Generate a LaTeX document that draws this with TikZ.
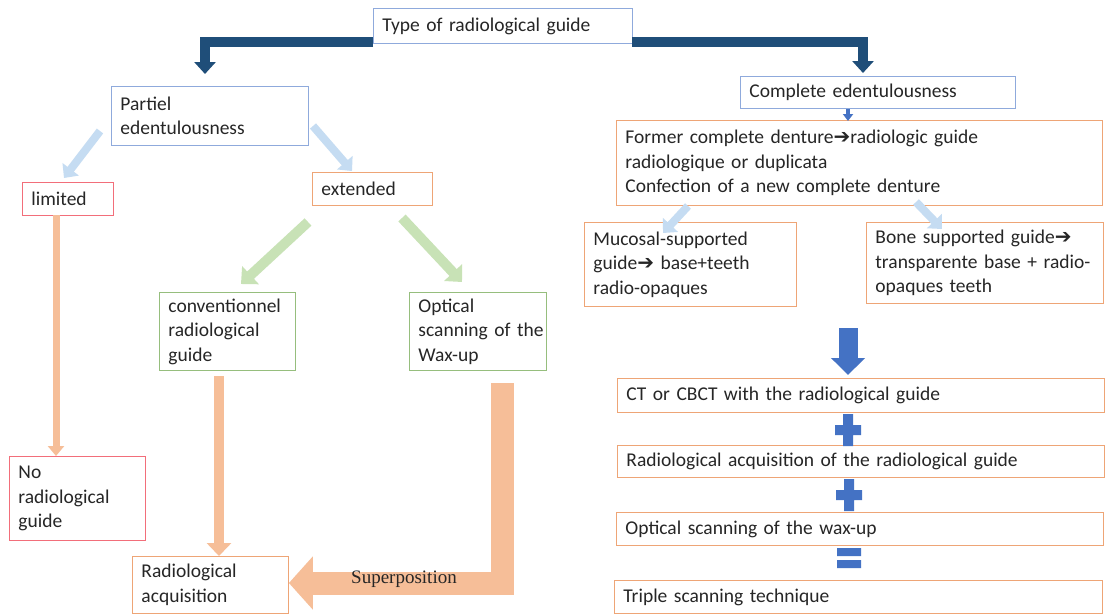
\documentclass[tikz,border=0pt]{standalone}
\usepackage{fontspec}
\setmainfont{Carlito}
\newfontfamily\dejavu{DejaVu Sans}
\newfontfamily\supfont{Liberation Serif}
\usetikzlibrary{arrows.meta}
\definecolor{cblue}{RGB}{143,170,220}
\definecolor{cpink}{RGB}{242,110,122}
\definecolor{corange}{RGB}{238,165,118}
\definecolor{cgreen}{RGB}{150,190,125}
\definecolor{clb}{RGB}{197,220,242}
\definecolor{clg}{RGB}{200,226,182}
\definecolor{cpeach}{RGB}{246,190,152}
\definecolor{cdark}{RGB}{31,78,121}
\definecolor{cmid}{RGB}{68,114,196}
\definecolor{ctxt}{RGB}{38,38,38}
\newcommand\heavyarr{{\dejavu\bfseries\fontsize{20}{22}\selectfont ➔}}
\begin{document}
\begin{tikzpicture}[x=1pt,y=-1pt,
  font=\fontsize{19.5}{24.5}\selectfont,
  bx/.style={draw, line width=0.9pt, anchor=north west, inner xsep=9pt, inner ysep=0pt, align=left, fill=white, text=ctxt},
  bluebox/.style={bx, draw=cblue},
  pinkbox/.style={bx, draw=cpink},
  orbox/.style={bx, draw=corange},
  grbox/.style={bx, draw=cgreen},
  darkarrow/.style={draw=cdark, line width=10pt, line join=miter, -{Triangle[width=21pt,length=12pt]}},
  lbarrow/.style={draw=clb, line width=8pt, -{Triangle[width=20pt,length=11pt]}},
  lgarrow/.style={draw=clg, line width=10pt, -{Triangle[width=24pt,length=13pt]}},
  pcharrow/.style={draw=cpeach, line width=#1},
  midarrow/.style={draw=cmid, line width=#1}
]
\useasboundingbox (0,0) rectangle (1105,614);
\fill[white] (0,0) rectangle (1105,614);

% boxes
\node[bluebox, minimum width=259pt, minimum height=35pt, text width=241pt] (type) at (373,8) {Type of radiological guide};
\node[bluebox, minimum width=197pt, minimum height=59pt, text width=179pt] (partiel) at (111,86) {Partiel\\edentulousness};
\node[pinkbox, minimum width=91pt, minimum height=33pt, text width=73pt] (limited) at (22,182) {limited};
\node[orbox, minimum width=120pt, minimum height=33pt, text width=102pt] (extended) at (312,172) {extended};
\node[grbox, minimum width=136pt, minimum height=78pt, text width=118pt] (conv) at (159,292) {\mbox{conventionnel}\\radiological\\guide};
\node[grbox, minimum width=137pt, minimum height=78pt, text width=119pt] (optical) at (409,292) {Optical\\\mbox{scanning of the}\\Wax-up};
\node[pinkbox, minimum width=136pt, minimum height=84pt, text width=118pt] (nog) at (9,456) {No\\radiological\\guide};
\node[orbox, minimum width=156pt, minimum height=57pt, text width=138pt] (radacq) at (132,556) {Radiological\\acquisition};

\node[bluebox, minimum width=275pt, minimum height=32pt, text width=257pt] (complete) at (740,76) {Complete edentulousness};
\node[orbox, minimum width=486pt, minimum height=85pt, text width=468pt] (former) at (616,120) {\mbox{Former complete denture\heavyarr radiologic guide}\\radiologique or duplicata\\\mbox{Confection of a new complete denture}};
\node[orbox, minimum width=212pt, minimum height=84pt, text width=194pt] (mucosal) at (584,222) {\mbox{Mucosal-supported}\\\mbox{guide\heavyarr{} base+teeth}\\radio-opaques};
\node[orbox, minimum width=237pt, minimum height=81pt, text width=219pt] (bone) at (866,222) {\mbox{Bone supported guide\heavyarr}\\\mbox{transparente base + radio-}\\opaques teeth};
\node[orbox, minimum width=487pt, minimum height=34pt, text width=469pt] (ct) at (617,378) {CT or CBCT with the radiological guide};
\node[orbox, minimum width=487pt, minimum height=32pt, text width=469pt] (radg) at (617,445) {Radiological acquisition of the radiological guide};
\node[orbox, minimum width=487pt, minimum height=33pt, text width=469pt] (optw) at (616,512) {Optical scanning of the wax-up};
\node[orbox, minimum width=488pt, minimum height=33pt, text width=470pt] (triple) at (614,580) {Triple scanning technique};

% connector end points
\coordinate (tl) at (373,41.5);
\coordinate (tr) at (632,41.5);
\coordinate (dl) at (205,74);
\coordinate (dr) at (863,73);
\coordinate (p1s) at (100,131);
\coordinate (p1e) at (64,178);
\coordinate (p2s) at (313,126);
\coordinate (p2e) at (352,171);
\coordinate (g1s) at (308,222);
\coordinate (g1e) at (241,284);
\coordinate (g2s) at (402,218);
\coordinate (g2e) at (462,282);
\coordinate (o1s) at (56,215);
\coordinate (o1e) at (56,456);
\coordinate (o2s) at (219,376);
\coordinate (o2e) at (219,556);
\coordinate (Ls) at (502.5,383);
\coordinate (Lc) at (502.5,583);
\coordinate (ce) at (848,121);
\coordinate (f1s) at (688,206);
\coordinate (f1e) at (663,233);
\coordinate (f2s) at (916,202);
\coordinate (f2e) at (942,229);
\coordinate (bs) at (848,328);
\coordinate (be) at (848,375);

% dark blue bracket arrows
\draw[darkarrow] (tl) -| (dl);
\draw[darkarrow] (tr) -| (dr);

% light blue arrows
\draw[lbarrow] (p1s) -- (p1e);
\draw[lbarrow] (p2s) -- (p2e);
\draw[lbarrow] (f1s) -- (f1e);
\draw[lbarrow] (f2s) -- (f2e);

% green arrows
\draw[lgarrow] (g1s) -- (g1e);
\draw[lgarrow] (g2s) -- (g2e);

% peach arrows
\draw[pcharrow=7pt, -{Triangle[width=16pt,length=10pt]}] (o1s) -- (o1e);
\draw[pcharrow=10pt, -{Triangle[width=24pt,length=13pt]}] (o2s) -- (o2e);
\draw[pcharrow=23pt, line join=miter, -{Triangle[width=52pt,length=24pt]}] (Ls) -- (Lc) -- (radacq.east |- Lc);
\node[font=\supfont\fontsize{19}{21}\selectfont, text=ctxt, inner sep=0pt] (sup) at (404,579) {Superposition};

% blue arrows and signs
\draw[midarrow=4pt, -{Triangle[width=10pt,length=7pt]}] (complete.south -| ce) -- (ce);
\draw[midarrow=19pt, -{Triangle[width=33pt,length=17pt]}] (bs) -- (be);
\fill[cmid] (835,425) rectangle (861,435) (843,414) rectangle (853,446);
\fill[cmid] (836,490) rectangle (862,500) (844,479) rectangle (854,511);
\fill[cmid] (837,548) rectangle (861,556) (837,560) rectangle (861,568);
\end{tikzpicture}
\end{document}
